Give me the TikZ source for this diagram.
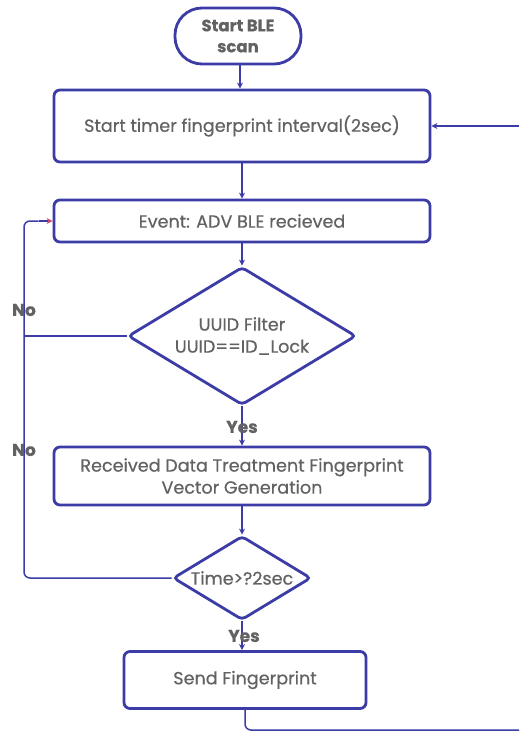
\documentclass[tikz,border=0pt]{standalone}
\usepackage{fontspec}
\setmainfont{Poppins}[FakeBold=0.5]
\usetikzlibrary{shapes.geometric,arrows.meta}
\definecolor{edge}{HTML}{3C3CA6}
\definecolor{ink}{HTML}{626262}
\definecolor{tipred}{HTML}{D04A6A}
\begin{document}
\begin{tikzpicture}[x=1pt,y=-1pt,
  every node/.style={text=ink,font=\fontsize{17.6}{22}\selectfont},
  procbox/.style={draw=edge,line width=2.8pt,rounded corners=6pt,fill=white,inner sep=0pt},
  decide/.style={draw=edge,line width=2.8pt,diamond,rounded corners=4pt,fill=white,inner sep=0pt,aspect=1.65},
  flow/.style={draw=edge,line width=1.5pt,-{Stealth[length=6pt,width=6pt]}},
  plain/.style={draw=edge,line width=1.5pt,rounded corners=6pt},
  lbl/.style={font=\fontsize{17}{21}\selectfont\bfseries,text=ink}]
\useasboundingbox (0,0) rectangle (519,735);

\node[procbox,rounded corners=27pt,minimum width=126pt,minimum height=56pt,align=center,font=\fontsize{16.5}{21}\selectfont\bfseries] (start) at (238,36) {Start BLE\\scan};
\node[procbox,minimum width=376pt,minimum height=72pt] (timer) at (242,126) {Start timer fingerprint interval(2sec)};
\node[procbox,minimum width=376pt,minimum height=42pt] (event) at (242,221) {Event: ADV BLE recieved};
\node[decide,minimum width=228pt,minimum height=138pt,label={[align=center]center:UUID Filter\\UUID==ID\_Lock}] (uuid) at (242,336) {};
\node[procbox,minimum width=376pt,minimum height=58pt,align=center] (treat) at (242,476) {Received Data Treatment Fingerprint\\Vector Generation};
\node[decide,minimum width=138pt,minimum height=84pt,label={center:Time>?2sec}] (time) at (242,578) {};
\node[procbox,minimum width=242pt,minimum height=57pt] (send) at (245,680) {Send Fingerprint};

\coordinate (loopL) at (24,221);
\coordinate (outR) at (519,126);
\coordinate (outB) at (519,730);

\draw[flow] ([xshift=2pt]start.south) -- ([xshift=2pt]start.south |- timer.north);
\draw[flow] (timer) -- (event);
\draw[flow] (event) -- (uuid);
\draw[flow] (uuid) -- (treat);
\draw[flow] (treat) -- (time);
\draw[flow] (time.south) -- (time.south |- send.north);
\draw[plain] (send.south) |- (outB);
\draw[flow] (outR) -- (timer.east);

\draw[plain] (time.west) -| (loopL) -- ([xshift=-14pt]event.west);
\draw[draw=edge,line width=1.5pt,-{Stealth[length=6pt,width=6pt,color=tipred]}] ([xshift=-14pt]event.west) -- (event.west);
\draw[plain] (uuid.west) -- (24,336);

\node[lbl] at (24,310) {No};
\node[lbl] at (24,450) {No};
\node[lbl] at (242,427) {Yes};
\node[lbl] at (244,636) {Yes};
\end{tikzpicture}
\end{document}
